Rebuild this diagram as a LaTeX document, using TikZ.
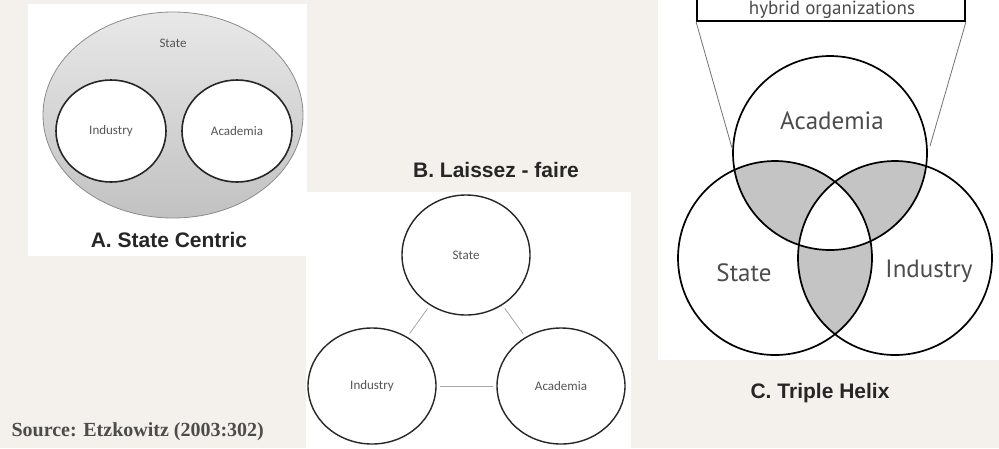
\documentclass[tikz,border=0pt]{standalone}
\usepackage{fontspec}
\usetikzlibrary{shapes.geometric}
\setmainfont{Liberation Sans}
\newfontfamily\capfont{Liberation Sans}
\newfontfamily\smallfont{Carlito}
\newfontfamily\venfont{PT Sans}
\newfontfamily\srcfont{Liberation Serif}
\definecolor{bgbeige}{HTML}{F4F1EC}
\definecolor{venshade}{HTML}{C4C4C4}
\definecolor{labgray}{HTML}{555555}
\begin{document}
\begin{tikzpicture}[x=1pt,y=-1pt,
  captxt/.style={font=\capfont\bfseries\fontsize{21}{24}\selectfont, text=black!85},
  smalltxt/.style={font=\smallfont\fontsize{13}{15}\selectfont, text=labgray},
  ventxt/.style={font=\venfont\fontsize{25}{28}\selectfont, text=black!70},
  ring/.style={draw=black!85, line width=1.6pt},
  link/.style={draw=black!35, line width=0.8pt}]
\useasboundingbox (0,0) rectangle (999,448);
\clip (0,0) rectangle (999,448);
\fill[bgbeige] (0,0) rectangle (999,448);
% panel backgrounds
\fill[white] (28,4) rectangle (307,256);
\fill[white] (306,192) rectangle (631,448);
\fill[white] (658,0) rectangle (999,360);

% ---------- A. State Centric ----------
\shade[top color=black!9, bottom color=black!24, draw=black!45, line width=0.8pt]
  (173,115) ellipse [x radius=130, y radius=103];
\node[smalltxt] (astate) at (173,43) {State};
\node[ring, fill=white, ellipse, minimum width=110pt, minimum height=102pt, inner sep=0pt, smalltxt] (aind) at (111,131) {Industry};
\node[ring, fill=white, ellipse, minimum width=110pt, minimum height=102pt, inner sep=0pt, smalltxt] (aaca) at (237,131) {Academia};
\node[captxt] (acap) at (169,240) {A. State Centric};

% ---------- B. Laissez-faire ----------
\node[captxt] (bcap) at (496,170) {B. Laissez - faire};
\node[draw=black!85, line width=1.4pt, ellipse, minimum width=128pt, minimum height=120pt, inner sep=0pt, smalltxt] (bstate) at (466,255) {State};
\node[draw=black!85, line width=1.4pt, ellipse, minimum width=128pt, minimum height=116pt, inner sep=0pt, smalltxt] (bind) at (372,386) {Industry};
\node[draw=black!85, line width=1.4pt, ellipse, minimum width=128pt, minimum height=116pt, inner sep=0pt, smalltxt] (baca) at (561,386) {Academia};
\draw[link, shorten <=4pt, shorten >=4pt] (bstate) -- (bind);
\draw[link, shorten <=4pt, shorten >=4pt] (bstate) -- (baca);
\draw[link, shorten <=3pt, shorten >=3pt] (bind) -- (baca);

% ---------- C. Triple Helix ----------
\coordinate (ca) at (830,153);
\coordinate (cs) at (775,258);
\coordinate (ci) at (895,258);
\def\rr{97}
\begin{scope}
  \clip (ca) circle (\rr);
  \fill[venshade] (cs) circle (\rr);
  \fill[venshade] (ci) circle (\rr);
\end{scope}
\begin{scope}
  \clip (cs) circle (\rr);
  \fill[venshade] (ci) circle (\rr);
\end{scope}
\begin{scope}
  \clip (ca) circle (\rr);
  \clip (cs) circle (\rr);
  \fill[white] (ci) circle (\rr);
\end{scope}
\draw[black, line width=1.7pt] (ca) circle (\rr);
\draw[black, line width=1.7pt] (cs) circle (\rr);
\draw[black, line width=1.7pt] (ci) circle (\rr);
\node[ventxt] (tca) at (832,121) {Academia};
\node[ventxt] (tcs) at (744,273) {State};
\node[ventxt] (tci) at (929,271) {Industry};
% hybrid box
\node[draw=black, line width=1.8pt, fill=white, minimum width=268pt, minimum height=40pt, inner sep=0pt, anchor=south] (hyb) at (831,22) {};
\node[font=\venfont\fontsize{19}{21}\selectfont, text=black!70, anchor=base] (hybt) at (832,14) {hybrid organizations};
\coordinate (hl) at (732,148);
\coordinate (hr) at (930,146);
\draw[black!55, line width=0.8pt] (hyb.south west) -- (hl);
\draw[black!55, line width=0.8pt] (hyb.south east) -- (hr);
\node[captxt] (ccap) at (820,393) {C. Triple Helix};

% ---------- Source ----------
\node[font=\srcfont\bfseries\fontsize{20}{22}\selectfont, text=black!70, anchor=west] (src) at (8,432) {Source: Etzkowitz (2003:302)};
\end{tikzpicture}
\end{document}
